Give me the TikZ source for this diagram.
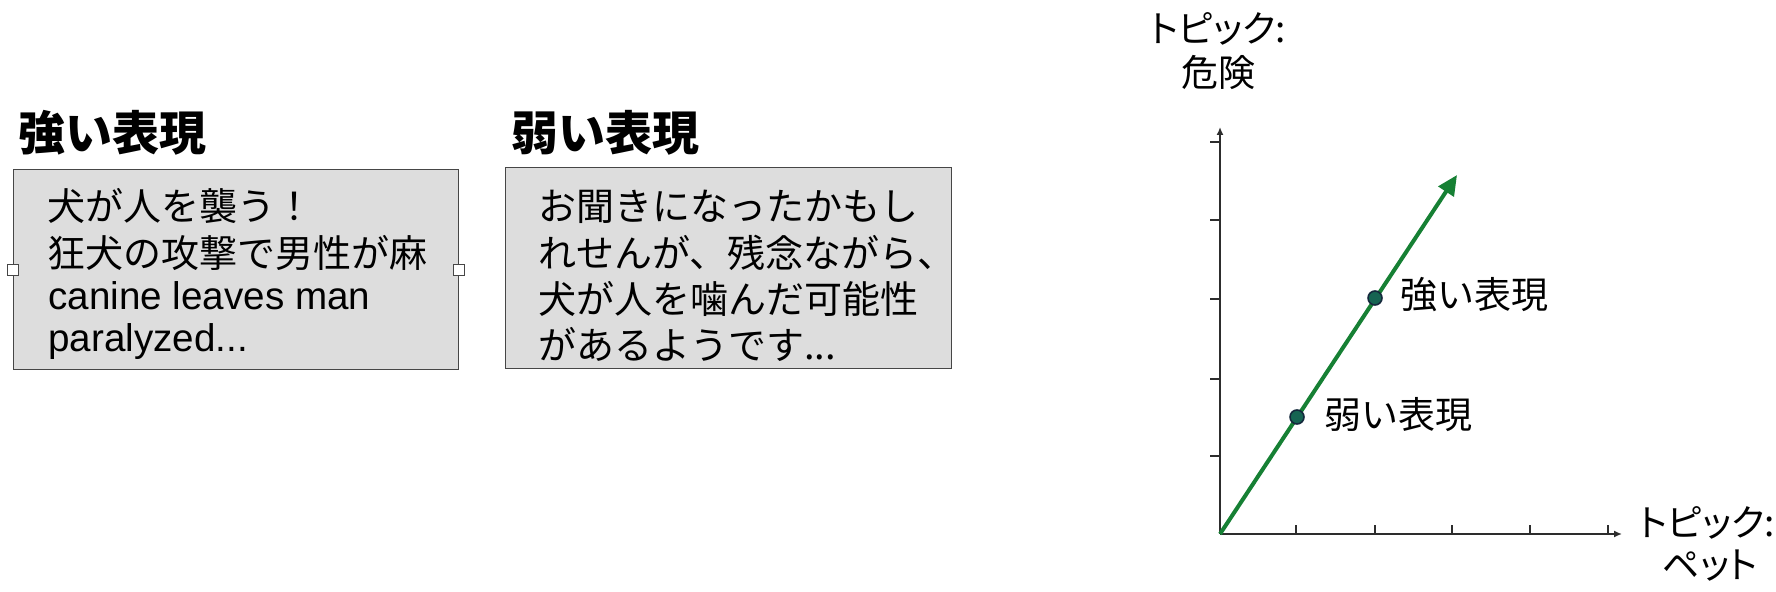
\documentclass[tikz,border=0pt]{standalone}
\usepackage{fontspec}
\setmainfont{Liberation Sans}
\newfontfamily\jp{Noto Sans CJK JP}
\newfontfamily\jpp[RawFeature=+palt]{Noto Sans CJK JP}
\usetikzlibrary{arrows.meta}
\definecolor{boxfill}{RGB}{221,221,221}
\definecolor{boxline}{RGB}{70,70,70}
\definecolor{arrowgreen}{RGB}{22,128,52}
\definecolor{dotfill}{RGB}{22,100,82}
\definecolor{dotline}{RGB}{20,40,60}
\definecolor{axisgray}{RGB}{45,45,45}
\begin{document}
\begin{tikzpicture}[x=0.5pt,y=-0.5pt,
  title/.style={anchor=base west, inner sep=0pt, font=\jp\bfseries\fontsize{23.5pt}{28pt}\selectfont},
  txt/.style={anchor=base west, inner sep=0pt, font=\jp\fontsize{19pt}{23pt}\selectfont},
  ltxt/.style={anchor=base west, inner sep=0pt, font=\fontsize{19.3pt}{23pt}\selectfont},
  boxnode/.style={draw=boxline, fill=boxfill, line width=0.7pt, anchor=north west, inner sep=0pt},
  handle/.style={draw=boxline, fill=white, line width=0.5pt, minimum size=5.5pt, inner sep=0pt},
  axis/.style={draw=axisgray, line width=1pt, -{Latex[length=4pt,width=3.5pt]}},
  tick/.style={draw=axisgray, line width=0.8pt},
  greenarrow/.style={draw=arrowgreen, line width=2pt, -{Triangle[length=10pt,width=9pt]}},
  dot/.style={circle, draw=dotline, fill=dotfill, line width=0.8pt, minimum size=7pt, inner sep=0pt},
  lbl/.style={anchor=base west, inner sep=0pt, font=\jp\fontsize{18.5pt}{22pt}\selectfont},
  axlbl/.style={anchor=base, inner sep=0pt, font=\jpp\fontsize{18.5pt}{22pt}\selectfont}]
\useasboundingbox (0,0) rectangle (1776,592);

% titles
\node[title] (t1) at (18,151) {強い表現};
\node[title] (t2) at (511,151) {弱い表現};

% boxes
\node[boxnode, minimum width=222.5pt, minimum height=100pt] (b1) at (13,169) {};
\node[boxnode, minimum width=223pt, minimum height=100.5pt] (b2) at (505,167) {};
\node[handle] (h1) at (b1.west) {};
\node[handle] (h2) at (b1.east) {};

% box 1 text
\node[txt] (a1) at (47,221) {犬が人を襲う！};
\node[txt] (a2) at (47,268) {狂犬の攻撃で男性が麻};
\node[ltxt] (a3) at (48,310) {canine leaves man};
\node[ltxt] (a4) at (48,352) {paralyzed...};

% box 2 text
\node[txt] (c1) at (538,221) {お聞きになったかもし};
\node[txt] (c2) at (538,268) {れせんが、残念ながら、};
\node[txt] (c3) at (538,314) {犬が人を噛んだ可能性};
\node[txt] (c4) at (538,360) {があるようです...};

% graph
\coordinate (O) at (1220,534);
\coordinate (Ytop) at (1220,127);
\coordinate (Xend) at (1622,534);
\coordinate (G) at (1457,175);
\draw[axis] (O) -- (Ytop);
\draw[axis] (O) -- (Xend);
\foreach \x in {1296,1375,1452,1530,1608} \draw[tick] (\x,534) -- (\x,525);
\foreach \y in {142,220,299,379,456} \draw[tick] (1210,\y) -- (1220,\y);
\draw[greenarrow] (O) -- (G);
\node[dot] (d1) at (1297,417) {};
\node[dot] (d2) at (1375,298) {};
\node[lbl] (l2) at (1400,309) {強い表現};
\node[lbl] (l1) at (1324,429) {弱い表現};

% axis labels
\node[axlbl] (y1) at (1218,43) {トピック:};
\node[axlbl] (y2) at (1218,87) {危険};
\node[axlbl] (x1) at (1707,537) {トピック:};
\node[axlbl] (x2) at (1710,578) {ペット};
\end{tikzpicture}
\end{document}
